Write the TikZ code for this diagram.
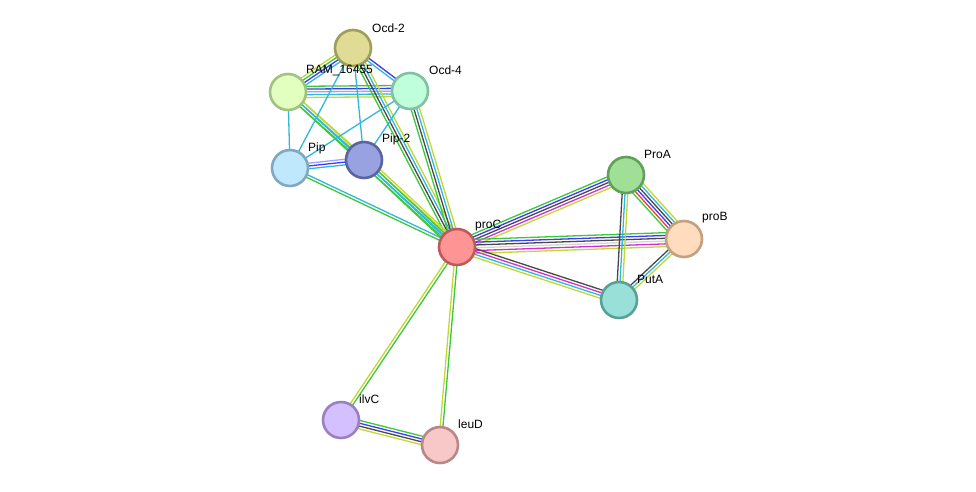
\documentclass[tikz,border=0pt]{standalone}
\usepackage{fontspec}
\setmainfont{Liberation Sans}
\usetikzlibrary{calc}
\pgfdeclarelayer{bg}
\pgfsetlayers{bg,main}
\definecolor{eG}{HTML}{3CC83C}
\definecolor{eY}{HTML}{C2D832}
\definecolor{eC}{HTML}{30B8DC}
\definecolor{eK}{HTML}{484848}
\definecolor{eB}{HTML}{3C3CF0}
\definecolor{eM}{HTML}{D030D0}
\definecolor{eR}{HTML}{F03C3C}
\definecolor{eL}{HTML}{A0A0FF}
\definecolor{eW}{HTML}{D4D4D4}
\definecolor{fOcdtwo}{HTML}{E0DC96}\definecolor{dOcdtwo}{HTML}{9E9E5A}
\definecolor{fRam}{HTML}{E2FFC0}\definecolor{dRam}{HTML}{A2C282}
\definecolor{fOcdfour}{HTML}{C0FFDC}\definecolor{dOcdfour}{HTML}{80C2A0}
\definecolor{fPip}{HTML}{C0E8FC}\definecolor{dPip}{HTML}{80A8C2}
\definecolor{fPiptwo}{HTML}{98A2E0}\definecolor{dPiptwo}{HTML}{5A64A2}
\definecolor{fProC}{HTML}{FF9494}\definecolor{dProC}{HTML}{C05A5A}
\definecolor{fProA}{HTML}{A0E096}\definecolor{dProA}{HTML}{60A05A}
\definecolor{fProB}{HTML}{FFDCBE}\definecolor{dProB}{HTML}{C2A080}
\definecolor{fPutA}{HTML}{98E0D8}\definecolor{dPutA}{HTML}{5AA098}
\definecolor{fIlvC}{HTML}{D4C0FF}\definecolor{dIlvC}{HTML}{9A80C2}
\definecolor{fLeuD}{HTML}{F8C8C8}\definecolor{dLeuD}{HTML}{B88888}
\newcommand\medge[4]{%
  \foreach \c [count=\i] in {#4}{%
    \pgfmathsetmacro\o{(\i-(#3+1)/2)*2.8}%
    \draw[line width=1.3pt,\c] ($(#1.center)!\o pt!90:(#2.center)$) -- ($(#2.center)!\o pt!-90:(#1.center)$);
  }}
\tikzset{
  prot/.style={circle,minimum size=36pt,inner sep=0pt,line width=2.6pt,fill=f#1,draw=d#1},
  lab/.style={anchor=west,font=\fontsize{12}{14}\selectfont,text=black,inner sep=0pt}
}
\begin{document}
\begin{tikzpicture}[x=1pt,y=-1pt]
\useasboundingbox (0,0) rectangle (976,491);
\node[prot=Ocdtwo] (ocdtwo) at (353,48) {};
\node[prot=Ram] (ram) at (288,92) {};
\node[prot=Ocdfour] (ocdfour) at (410,91) {};
\node[prot=Pip] (pip) at (290,168) {};
\node[prot=Piptwo] (piptwo) at (364,160) {};
\node[prot=ProC] (proC) at (457,247) {};
\node[prot=ProA] (proA) at (626,175) {};
\node[prot=ProB] (proB) at (684,239) {};
\node[prot=PutA] (putA) at (619,300) {};
\node[prot=IlvC] (ilvC) at (341,420) {};
\node[prot=LeuD] (leuD) at (440,445) {};
\node[lab] (lOcdtwo) at (372,28) {Ocd-2};
\node[lab] (lRam) at (306,70) {RAM\_16455};
\node[lab] (lOcdfour) at (429,70) {Ocd-4};
\node[lab] (lPip) at (308,148) {Pip};
\node[lab] (lPiptwo) at (382,139) {Pip-2};
\node[lab] (lProC) at (475,226) {proC};
\node[lab] (lProA) at (644,154) {ProA};
\node[lab] (lProB) at (702,218) {proB};
\node[lab] (lPutA) at (637,279) {PutA};
\node[lab] (lIlvC) at (359,399) {ilvC};
\node[lab] (lLeuD) at (458,424) {leuD};
\begin{pgfonlayer}{bg}
\medge{ram}{ocdtwo}{4}{eC,eB,eG,eY}
\medge{ocdtwo}{ocdfour}{2}{eC,eB}
\medge{ram}{ocdfour}{5}{eY,eC,eL,eB,eG}
\medge{ocdtwo}{proC}{4}{eG,eK,eC,eY}
\medge{ocdfour}{proC}{4}{eG,eK,eC,eY}
\medge{ram}{proC}{3}{eG,eC,eY}
\medge{ram}{piptwo}{3}{eG,eC,eY}
\medge{ram}{pip}{1}{eC}
\medge{ocdtwo}{pip}{1}{eC}
\medge{ocdtwo}{piptwo}{1}{eC}
\medge{ocdfour}{pip}{1}{eC}
\medge{ocdfour}{piptwo}{1}{eC}
\medge{pip}{piptwo}{3}{eC,eB,eL}
\medge{pip}{proC}{2}{eG,eC}
\medge{piptwo}{proC}{4}{eG,eC,eG,eY}
\medge{proC}{proA}{5}{eY,eM,eK,eB,eG}
\medge{proC}{proB}{6}{eY,eM,eW,eK,eB,eG}
\medge{proC}{putA}{4}{eY,eC,eM,eK}
\medge{proA}{proB}{6}{eG,eR,eB,eK,eC,eY}
\medge{proA}{putA}{3}{eK,eC,eY}
\medge{proB}{putA}{3}{eK,eC,eY}
\medge{proC}{ilvC}{2}{eY,eG}
\medge{proC}{leuD}{2}{eY,eG}
\medge{ilvC}{leuD}{4}{eY,eK,eB,eG}
\end{pgfonlayer}
\end{tikzpicture}
\end{document}
